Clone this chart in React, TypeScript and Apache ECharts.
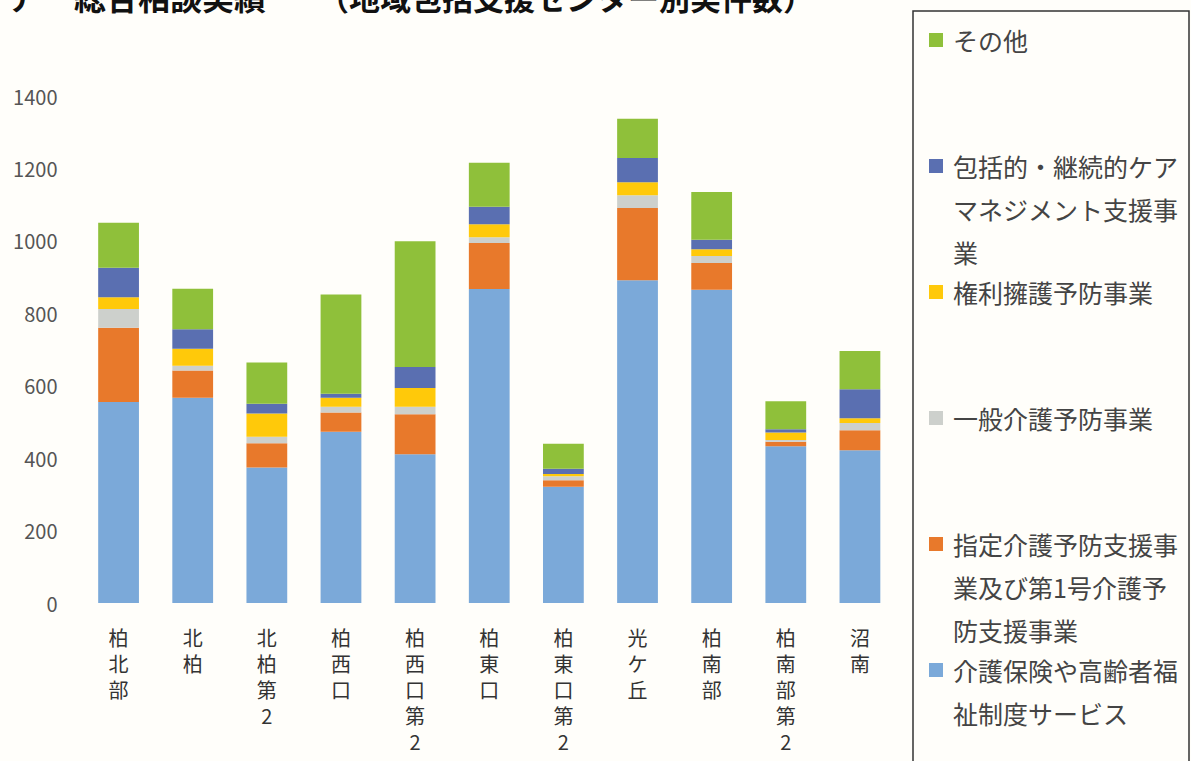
import React, { useEffect, useRef } from "react";
import * as echarts from "echarts";

const categories = ["柏北部", "北柏", "北柏第2", "柏西口", "柏西口第2", "柏東口", "柏東口第2", "光ケ丘", "柏南部", "柏南部第2", "沼南"];

const seriesNames = [
  "介護保険や高齢者福祉制度サービス",
  "指定介護予防支援事業及び第1号介護予防支援事業",
  "一般介護予防事業",
  "権利擁護予防事業",
  "包括的・継続的ケアマネジメント支援事業",
  "その他",
];

const legendLabels = [
  "介護保険や高齢者福\n祉制度サービス",
  "指定介護予防支援事\n業及び第1号介護予\n防支援事業",
  "一般介護予防事業",
  "権利擁護予防事業",
  "包括的・継続的ケア\nマネジメント支援事\n業",
  "その他",
];

const kaigoHoken = [555, 567, 374, 473, 411, 867, 321, 891, 865, 433, 422];
const shiteiKaigo = [205, 75, 67, 53, 110, 127, 18, 200, 74, 12, 55];
const ippanKaigo = [52, 13, 18, 16, 21, 16, 11, 35, 19, 5, 20];
const kenriYogo = [32, 47, 64, 25, 52, 36, 6, 36, 19, 21, 13];
const houkatsu = [82, 54, 27, 11, 58, 48, 15, 67, 26, 9, 80];
const sonota = [124, 112, 114, 274, 347, 122, 69, 108, 132, 77, 106];

const seriesData = [kaigoHoken, shiteiKaigo, ippanKaigo, kenriYogo, houkatsu, sonota];
const colors = ["#7ba9d9", "#e8792b", "#cdd0cc", "#ffc90a", "#5a6fb1", "#8fc03a"];

const yTicks = { min: 0, max: 1400, interval: 200 };

const FONT = "'Noto Sans CJK JP', 'Noto Sans', sans-serif";

export default function App() {
  const ref = useRef<HTMLDivElement>(null);

  useEffect(() => {
    if (!ref.current) return;
    const chart = echarts.init(ref.current, undefined, { renderer: "svg" });

    const legendGraphics: any[] = [];
    const order = [5, 4, 3, 2, 1, 0];
    order.forEach((si, k) => {
      const y0 = 40 + 126 * k;
      legendGraphics.push({
        type: "rect",
        shape: { x: 929, y: y0 - 7, width: 14, height: 14 },
        style: { fill: colors[si] },
      });
      legendGraphics.push({
        type: "text",
        x: 953,
        y: y0 - 21.5,
        style: {
          text: legendLabels[si],
          font: `25px ${FONT}`,
          fill: "#444",
          lineHeight: 43,
          verticalAlign: "top",
          align: "left",
        },
      });
    });

    const option: any = {
      animation: false,
      backgroundColor: "#fffefa",
      grid: { left: 81.5, right: 294, top: 96, bottom: 158 },
      xAxis: {
        type: "category",
        data: categories,
        axisLine: { show: false },
        axisTick: { show: false },
        axisLabel: {
          interval: 0,
          margin: 21,
          color: "#333",
          fontSize: 20,
          fontFamily: FONT,
          lineHeight: 26,
          verticalAlign: "top",
          formatter: (v: string) => v.split("").join("\n"),
        },
      },
      yAxis: {
        type: "value",
        min: yTicks.min,
        max: yTicks.max,
        interval: yTicks.interval,
        axisLine: { show: false },
        axisTick: { show: false },
        splitLine: { show: false },
        axisLabel: {
          color: "#555",
          fontSize: 20,
          fontFamily: FONT,
          margin: 24,
          formatter: (v: number) => String(v),
        },
      },
      series: seriesData.map((d, i) => ({
        name: seriesNames[i],
        type: "bar",
        stack: "total",
        data: d,
        barWidth: "55%",
        itemStyle: { color: colors[i] },
      })),
      graphic: [
        {
          type: "text",
          x: 8,
          y: -4,
          style: { text: "ア", font: `bold 31px ${FONT}`, fill: "#111", verticalAlign: "middle" },
        },
        {
          type: "text",
          x: 74,
          y: -4,
          style: { text: "総合相談実績", font: `bold 32px ${FONT}`, fill: "#111", verticalAlign: "middle" },
        },
        {
          type: "text",
          x: 318,
          y: -4,
          style: {
            text: "（地域包括支援センター別実件数）",
            font: `bold 31px ${FONT}`,
            fill: "#111",
            verticalAlign: "middle",
          },
        },
        {
          type: "rect",
          shape: { x: 913, y: 11, width: 276, height: 770 },
          style: { fill: "none", stroke: "#333", lineWidth: 1.5 },
        },
        ...legendGraphics,
      ],
    };

    chart.setOption(option);
    return () => chart.dispose();
  }, []);

  return (
    <div
      ref={ref}
      style={{ position: "fixed", left: 0, top: 0, width: 1191, height: 761 }}
    />
  );
}
